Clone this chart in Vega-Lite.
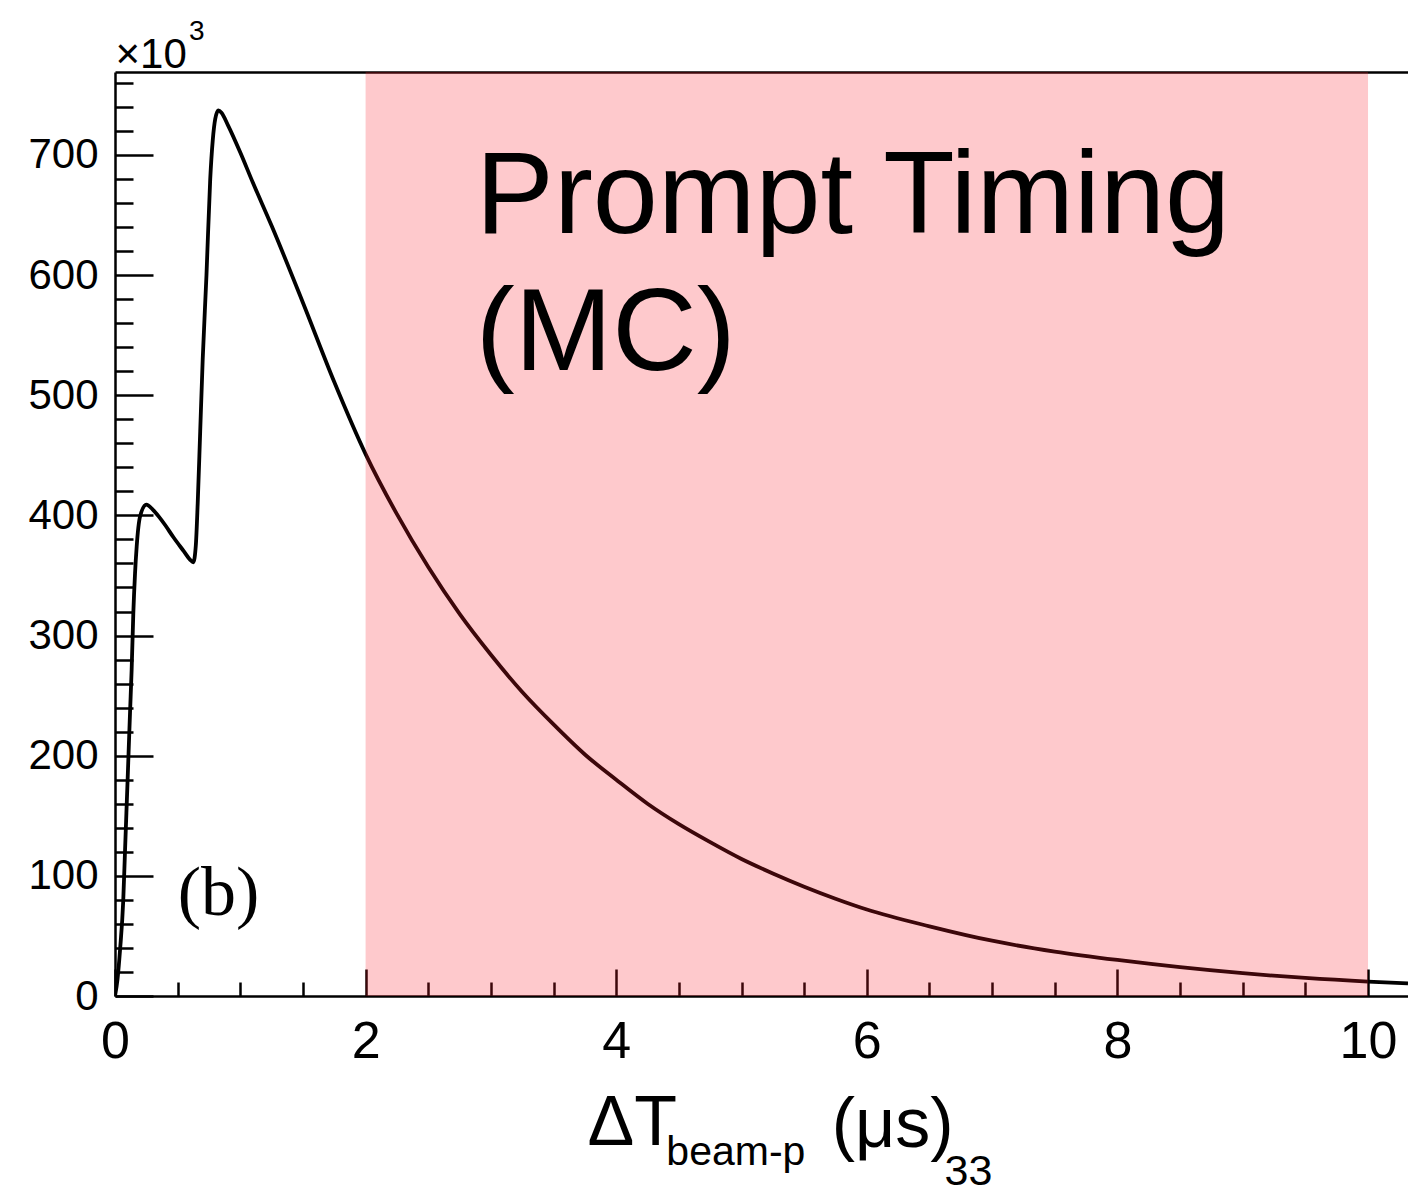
{
  "$schema": "https://vega.github.io/schema/vega-lite/v6.json",
  "width": 1293,
  "height": 924,
  "autosize": {"type": "none"},
  "padding": {"left": 115, "top": 72, "right": 0, "bottom": 197},
  "background": "white",
  "config": {
    "view": {"stroke": null},
    "axis": {"grid": false, "domainColor": "black", "tickColor": "black", "labelColor": "black", "labelFont": "Liberation Sans", "titleFont": "Liberation Sans", "titleColor": "black", "labelFlush": false, "labelOverlap": false}
  },
  "resolve": {"axis": {"x": "independent", "y": "independent"}},
  "layer": [
    {
      "data": {"values": [
        {"t": 0, "n": 0}, {"t": 0.02, "n": 14}, {"t": 0.04, "n": 38}, {"t": 0.066, "n": 80}, {"t": 0.08, "n": 121},
        {"t": 0.1, "n": 178}, {"t": 0.12, "n": 236}, {"t": 0.133, "n": 272}, {"t": 0.146, "n": 318}, {"t": 0.16, "n": 352},
        {"t": 0.173, "n": 374}, {"t": 0.2, "n": 399}, {"t": 0.25, "n": 409}, {"t": 0.3, "n": 405}, {"t": 0.35, "n": 399},
        {"t": 0.4, "n": 392}, {"t": 0.465, "n": 382}, {"t": 0.55, "n": 370}, {"t": 0.6, "n": 363}, {"t": 0.625, "n": 361},
        {"t": 0.645, "n": 375}, {"t": 0.66, "n": 410}, {"t": 0.68, "n": 470}, {"t": 0.7, "n": 530}, {"t": 0.73, "n": 600},
        {"t": 0.76, "n": 680}, {"t": 0.78, "n": 712}, {"t": 0.8, "n": 730}, {"t": 0.825, "n": 737}, {"t": 0.85, "n": 735},
        {"t": 0.9, "n": 725}, {"t": 1.0, "n": 702}, {"t": 1.1, "n": 677}, {"t": 1.25, "n": 641}, {"t": 1.5, "n": 577},
        {"t": 1.75, "n": 511}, {"t": 2.0, "n": 451}, {"t": 2.25, "n": 401}, {"t": 2.5, "n": 357}, {"t": 2.75, "n": 318},
        {"t": 3.0, "n": 284}, {"t": 3.25, "n": 253}, {"t": 3.5, "n": 226}, {"t": 3.75, "n": 201}, {"t": 4.0, "n": 180},
        {"t": 4.25, "n": 160}, {"t": 4.5, "n": 143}, {"t": 4.75, "n": 128}, {"t": 5.0, "n": 114}, {"t": 5.25, "n": 102},
        {"t": 5.5, "n": 91}, {"t": 5.75, "n": 81}, {"t": 6.0, "n": 72}, {"t": 6.5, "n": 58}, {"t": 7.0, "n": 46},
        {"t": 7.5, "n": 37}, {"t": 8.0, "n": 30}, {"t": 8.5, "n": 24}, {"t": 9.0, "n": 19}, {"t": 9.5, "n": 15},
        {"t": 10.0, "n": 12}, {"t": 10.319, "n": 10.5}
      ]},
      "mark": {"type": "line", "color": "black", "strokeWidth": 3.8, "interpolate": "monotone", "clip": true},
      "encoding": {
        "x": {"field": "t", "type": "quantitative", "scale": {"domain": [0, 10.319], "nice": false, "zero": false},
          "axis": {"orient": "bottom", "values": [0, 2, 4, 6, 8, 10], "ticks": false, "domain": true, "domainWidth": 2.5, "labelFontSize": 52, "labelPadding": 20, "title": null}},
        "y": {"field": "n", "type": "quantitative", "scale": {"domain": [0, 769], "nice": false, "zero": false},
          "axis": {"orient": "left", "values": [0, 100, 200, 300, 400, 500, 600, 700], "ticks": false, "domain": true, "domainWidth": 2.5, "labelFontSize": 42, "labelPadding": 17,
            "title": "×10", "titleAngle": 0, "titleX": 0, "titleY": -5, "titleAlign": "left", "titleBaseline": "alphabetic", "titleFontSize": 42, "titleFontWeight": "normal"}}
      }
    },
    {
      "data": {"values": [{"start": 2, "end": 10}]},
      "mark": {"type": "rect", "fill": "rgb(250,30,40)", "opacity": 0.24},
      "encoding": {
        "x": {"field": "start", "type": "quantitative", "scale": {"domain": [0, 10.319], "nice": false, "zero": false},
          "axis": {"orient": "bottom", "values": [0, 2, 4, 6, 8, 10], "tickSize": -27, "tickWidth": 2.5, "labels": false, "domain": false, "title": null}},
        "x2": {"field": "end"}
      }
    },
    {
      "data": {"values": [{"label": "Prompt Timing", "t": 2.88, "n": 635}, {"label": "(MC)", "t": 2.88, "n": 521}]},
      "mark": {"type": "text", "font": "Liberation Sans", "fontSize": 117, "align": "left", "baseline": "alphabetic", "color": "black"},
      "encoding": {
        "x": {"field": "t", "type": "quantitative", "scale": {"domain": [0, 10.319], "nice": false, "zero": false},
          "axis": {"orient": "bottom", "values": [0.5, 1, 1.5, 2.5, 3, 3.5, 4.5, 5, 5.5, 6.5, 7, 7.5, 8.5, 9, 9.5], "tickSize": -14, "tickWidth": 2.5, "labels": false, "domain": false, "title": null}},
        "y": {"field": "n", "type": "quantitative", "scale": {"domain": [0, 769], "nice": false, "zero": false},
          "axis": {"orient": "left", "values": [20, 40, 60, 80, 120, 140, 160, 180, 220, 240, 260, 280, 320, 340, 360, 380, 420, 440, 460, 480, 520, 540, 560, 580, 620, 640, 660, 680, 720, 740, 760], "tickSize": -18, "tickWidth": 2.5, "labels": false, "domain": false, "title": null}},
        "text": {"field": "label"}
      }
    },
    {
      "data": {"values": [{"label": "(b)", "t": 0.5, "n": 67}]},
      "mark": {"type": "text", "font": "Liberation Serif", "fontSize": 70, "align": "left", "baseline": "alphabetic", "color": "black"},
      "encoding": {
        "x": {"field": "t", "type": "quantitative", "scale": {"domain": [0, 10.319], "nice": false, "zero": false},
          "axis": {"orient": "top", "ticks": false, "labels": false, "domain": true, "domainWidth": 2.5, "title": null}},
        "y": {"field": "n", "type": "quantitative", "scale": {"domain": [0, 769], "nice": false, "zero": false},
          "axis": {"orient": "left", "values": [0, 100, 200, 300, 400, 500, 600, 700], "tickSize": -38, "tickWidth": 2.5, "labels": false, "domain": false, "title": null}},
        "text": {"field": "label"}
      }
    },
    {
      "data": {"values": [{"label": "3", "t": 0.59, "n": 796}]},
      "mark": {"type": "text", "font": "Liberation Sans", "fontSize": 28, "align": "left", "baseline": "alphabetic", "color": "black"},
      "encoding": {
        "x": {"field": "t", "type": "quantitative", "scale": {"domain": [0, 10.319], "nice": false, "zero": false}, "axis": null},
        "y": {"field": "n", "type": "quantitative", "scale": {"domain": [0, 769], "nice": false, "zero": false}, "axis": null},
        "text": {"field": "label"}
      }
    },
    {
      "data": {"values": [{"label": "ΔT", "t": 3.77, "n": -124.4}, {"label": "(μs)", "t": 5.72, "n": -125.7}]},
      "mark": {"type": "text", "font": "Liberation Sans", "fontSize": 70, "align": "left", "baseline": "alphabetic", "color": "black"},
      "encoding": {
        "x": {"field": "t", "type": "quantitative", "scale": {"domain": [0, 10.319], "nice": false, "zero": false}, "axis": null},
        "y": {"field": "n", "type": "quantitative", "scale": {"domain": [0, 769], "nice": false, "zero": false}, "axis": null},
        "text": {"field": "label"}
      }
    },
    {
      "data": {"values": [{"label": "beam-p", "t": 4.4, "n": -140.7}]},
      "mark": {"type": "text", "font": "Liberation Sans", "fontSize": 41, "align": "left", "baseline": "alphabetic", "color": "black"},
      "encoding": {
        "x": {"field": "t", "type": "quantitative", "scale": {"domain": [0, 10.319], "nice": false, "zero": false}, "axis": null},
        "y": {"field": "n", "type": "quantitative", "scale": {"domain": [0, 769], "nice": false, "zero": false}, "axis": null},
        "text": {"field": "label"}
      }
    },
    {
      "data": {"values": [{"label": "33", "t": 6.62, "n": -157.5}]},
      "mark": {"type": "text", "font": "Liberation Sans", "fontSize": 43, "align": "left", "baseline": "alphabetic", "color": "black"},
      "encoding": {
        "x": {"field": "t", "type": "quantitative", "scale": {"domain": [0, 10.319], "nice": false, "zero": false}, "axis": null},
        "y": {"field": "n", "type": "quantitative", "scale": {"domain": [0, 769], "nice": false, "zero": false}, "axis": null},
        "text": {"field": "label"}
      }
    }
  ]
}
